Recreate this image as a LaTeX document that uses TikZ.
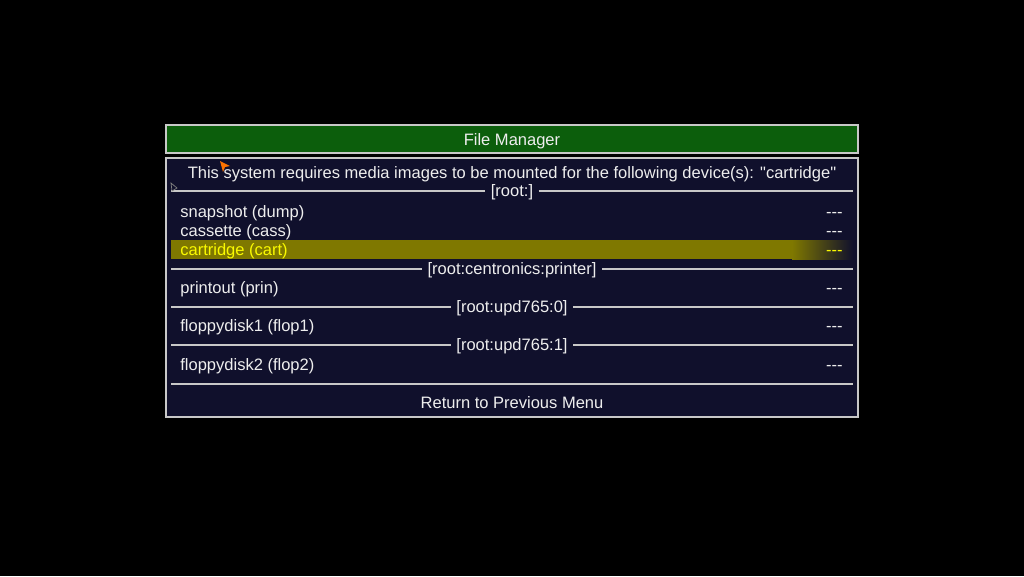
\documentclass[tikz,border=0pt]{standalone}
\usepackage{fontspec}
\setmainfont{Liberation Sans}[Ligatures=TeXOff]
\usetikzlibrary{positioning}
\definecolor{fond}{RGB}{16,16,44}
\definecolor{vert}{RGB}{12,94,12}
\definecolor{bord}{RGB}{200,200,200}
\definecolor{blanc}{RGB}{238,238,238}
\definecolor{olive}{RGB}{127,120,0}
\definecolor{jaune}{RGB}{250,250,0}
\begin{document}
\begin{tikzpicture}[x=0.02cm,y=-0.02cm,
	txt/.style={text=blanc,font=\fontsize{9.4}{11}\selectfont,inner sep=0pt,anchor=base},
	item/.style={txt,anchor=base west},
	etat/.style={txt,anchor=base east},
	titre/.style={txt,inner xsep=3pt}]
	\fill[black] (0,0) rectangle (1024,576); % fond noir
	\draw[bord,fill=vert,line width=0.6pt] (166,125) rectangle (858,153); % barre du titre
	\draw[bord,fill=fond,line width=0.6pt] (166,158) rectangle (858,417); % cadre du menu
	\node[txt] (titre) at (512,145) {File Manager};
	\node[txt] (info) at (512,178) {This system requires media images to be mounted for the following device(s): "cartridge"};
	
	% ligne choisie
	\fill[olive] (171,240) rectangle (792,259);
	\shade[left color=olive,right color=fond] (792,240) rectangle (853,259);
	
	\node[titre] (g1) at (512,196) {[root:]};
	\node[titre] (g2) at (512,274) {[root:centronics:printer]};
	\node[titre] (g3) at (512,312) {[root:upd765:0]};
	\node[titre] (g4) at (512,350) {[root:upd765:1]};
	\foreach \g/\y in {g1/191,g2/269,g3/307,g4/345}
		\draw[bord,line width=0.8pt] (171,\y) -- (\g.west |- 0,\y) (\g.east |- 0,\y) -- (853,\y);
	\draw[bord,line width=0.8pt] (171,384) -- (853,384);
	
	\node[item] (dump) at (180,217) {snapshot (dump)};
	\node[item] (cass) at (180,236) {cassette (cass)};
	\node[item,text=jaune] (cart) at (180,255) {cartridge (cart)};
	\node[item] (prin) at (180,293) {printout (prin)};
	\node[item] (flop1) at (180,331) {floppydisk1 (flop1)};
	\node[item] (flop2) at (180,370) {floppydisk2 (flop2)};
	\foreach \n/\y in {dump/217,cass/236,prin/293,flop1/331,flop2/370}
		\node[etat] (v\n) at (843,\y) {---};
	\node[etat,text=jaune] (vcart) at (843,255) {---};
	
	\node[txt] (retour) at (512,408) {Return to Previous Menu};
	
	% pointeurs de souris
	\fill[orange!90!red] (220,161) -- (230,166) -- (225,167) -- (223,172) -- cycle;
	\draw[gray,line width=0.4pt] (171,183) -- (177,188) -- (172,191) -- cycle;
\end{tikzpicture}
\end{document}
